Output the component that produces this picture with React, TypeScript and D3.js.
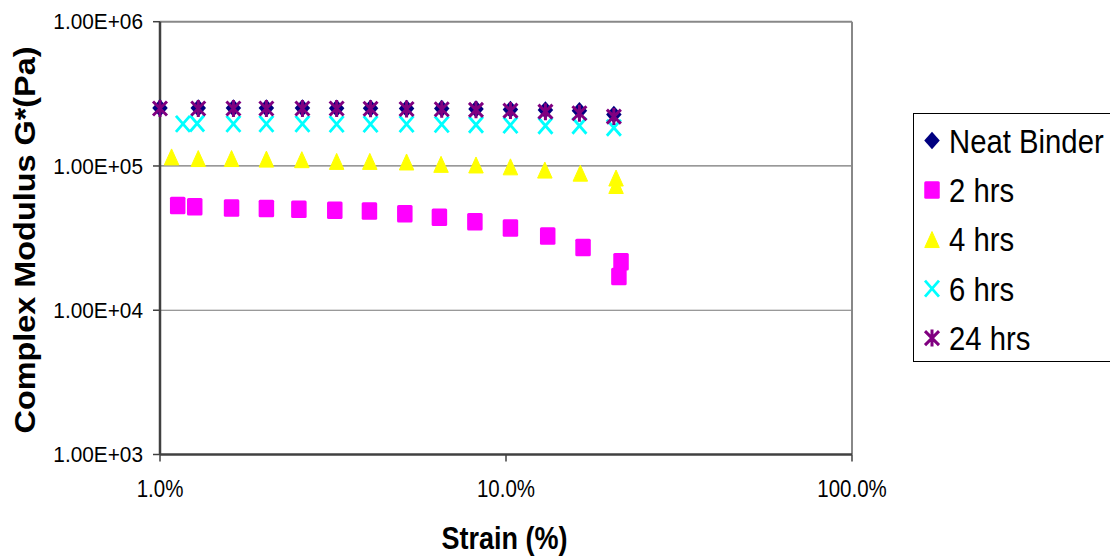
import React from "react";
import * as d3 from "d3";

// ---- data ----
const seriesNames = ["Neat Binder", "2 hrs", "4 hrs", "6 hrs", "24 hrs"];

const neatStrain = [1.0, 1.29, 1.63, 2.03, 2.58, 3.24, 4.06, 5.16, 6.52, 8.19, 10.3, 13.0, 16.3, 20.5];
const neatG = [2.52e5, 2.52e5, 2.52e5, 2.52e5, 2.52e5, 2.51e5, 2.51e5, 2.5e5, 2.5e5, 2.48e5, 2.46e5, 2.44e5, 2.41e5, 2.27e5];

const hrs2Strain = [1.125, 1.26, 1.61, 2.03, 2.52, 3.2, 4.03, 5.1, 6.42, 8.13, 10.3, 13.2, 16.7, 21.5, 21.2];
const hrs2G = [5.33e4, 5.21e4, 5.11e4, 5.08e4, 5.02e4, 4.94e4, 4.87e4, 4.67e4, 4.41e4, 4.1e4, 3.71e4, 3.27e4, 2.72e4, 2.17e4, 1.71e4];

const hrs4Strain = [1.08, 1.29, 1.61, 2.03, 2.57, 3.24, 4.04, 5.16, 6.49, 8.19, 10.3, 12.95, 16.4, 20.8, 20.8];
const hrs4G = [1.16e5, 1.13e5, 1.13e5, 1.12e5, 1.11e5, 1.08e5, 1.08e5, 1.07e5, 1.03e5, 1.02e5, 9.9e4, 9.4e4, 8.95e4, 8.28e4, 7.35e4];

const hrs6Strain = [1.165, 1.28, 1.63, 2.03, 2.58, 3.24, 4.06, 5.16, 6.52, 8.19, 10.3, 13.0, 16.3, 20.5];
const hrs6G = [1.96e5, 1.97e5, 1.96e5, 1.96e5, 1.96e5, 1.95e5, 1.95e5, 1.95e5, 1.94e5, 1.93e5, 1.92e5, 1.9e5, 1.9e5, 1.84e5];

const hrs24Strain = [1.0, 1.29, 1.63, 2.03, 2.58, 3.24, 4.06, 5.16, 6.52, 8.19, 10.3, 13.0, 16.3, 20.5];
const hrs24G = [2.5e5, 2.5e5, 2.5e5, 2.5e5, 2.5e5, 2.5e5, 2.49e5, 2.48e5, 2.47e5, 2.45e5, 2.42e5, 2.38e5, 2.32e5, 2.2e5];

const yTicks = [1e3, 1e4, 1e5, 1e6];
const yTickLabels = ["1.00E+03", "1.00E+04", "1.00E+05", "1.00E+06"];
const xTicks = [1, 10, 100];
const xTickLabels = ["1.0%", "10.0%", "100.0%"];

const colors = ["#000080", "#FF00FF", "#FFFF00", "#00FFFF", "#800080"];
const shapes = ["diamond", "square", "triangle", "x", "star"];

const FONT = "Arial, 'Liberation Sans', Helvetica, sans-serif";

function Marker({ shape, color, x, y }: { shape: string; color: string; x: number; y: number }) {
  const w = 15.5, h = 17.5;
  if (shape === "diamond") {
    return <path d={`M${x},${y - h / 2}L${x + w / 2},${y}L${x},${y + h / 2}L${x - w / 2},${y}Z`} fill={color} />;
  }
  if (shape === "square") {
    return <rect x={x - w / 2} y={y - h / 2} width={w} height={h} rx={1.5} fill={color} />;
  }
  if (shape === "triangle") {
    return (
      <path
        d={`M${x},${y - h / 2 + 1}L${x + w / 2 - 0.5},${y + h / 2 - 0.5}L${x - w / 2 + 0.5},${y + h / 2 - 0.5}Z`}
        fill={color}
        stroke={color}
        strokeWidth={1}
        strokeLinejoin="round"
      />
    );
  }
  if (shape === "x") {
    const a = 7, b = 8;
    return (
      <path
        d={`M${x - a},${y - b}L${x + a},${y + b}M${x + a},${y - b}L${x - a},${y + b}`}
        stroke={color}
        strokeWidth={2.8}
        fill="none"
      />
    );
  }
  // star
  const a = 7, b = 8.5;
  return (
    <path
      d={`M${x - a},${y - b + 1.5}L${x + a},${y + b - 1.5}M${x + a},${y - b + 1.5}L${x - a},${y + b - 1.5}M${x},${y - b}L${x},${y + b}`}
      stroke={color}
      strokeWidth={3}
      fill="none"
    />
  );
}

export default function App() {
  const W = 1110, H = 558;
  const left = 160, right = 852, top = 21.7, bottom = 454.5;
  const x = d3.scaleLog().domain([1, 100]).range([left, right]);
  const y = d3.scaleLog().domain([1e3, 1e6]).range([bottom, top]);

  const series = [
    { s: neatStrain, g: neatG },
    { s: hrs2Strain, g: hrs2G },
    { s: hrs4Strain, g: hrs4G },
    { s: hrs6Strain, g: hrs6G },
    { s: hrs24Strain, g: hrs24G },
  ];

  const legendX = 913.5, legendY = 113.5, legendH = 248;
  const legendBase0 = 152.5, legendStep = 49.4;

  return (
    <div style={{ position: "fixed", left: 0, top: 0, width: W, height: H, background: "#fff" }}>
      <svg width={W} height={H} style={{ display: "block" }}>
        <rect x={0} y={0} width={W} height={H} fill="#fff" />
        {/* gridlines */}
        {yTicks.filter((t) => t > 1e3 && t < 1e6).map((t) => (
          <line key={t} x1={left} x2={right} y1={y(t)} y2={y(t)} stroke="#777" strokeWidth={1.2} />
        ))}
        {/* plot border top/right */}
        <line x1={left} x2={right} y1={top} y2={top} stroke="#888" strokeWidth={2} />
        <line x1={right} x2={right} y1={top} y2={bottom} stroke="#888" strokeWidth={2} />
        {/* axes */}
        <line x1={left} x2={left} y1={top} y2={bottom} stroke="#404040" strokeWidth={2.5} />
        <line x1={left} x2={right} y1={bottom} y2={bottom} stroke="#404040" strokeWidth={2.5} />
        {yTicks.map((t) => (
          <line key={"yt" + t} x1={left - 7} x2={left} y1={y(t)} y2={y(t)} stroke="#404040" strokeWidth={1.5} />
        ))}
        {xTicks.map((t) => (
          <line key={"xt" + t} x1={x(t)} x2={x(t)} y1={bottom} y2={bottom + 7} stroke="#404040" strokeWidth={1.5} />
        ))}
        {/* y tick labels */}
        {yTicks.map((t, i) => (
          <text
            key={"yl" + t}
            transform={`translate(${143},${y(t)}) scale(1,1.1)`}
            y={7}
            textAnchor="end"
            fontFamily={FONT}
            fontSize={20.8}
            fill="#000"
          >
            {yTickLabels[i]}
          </text>
        ))}
        {/* x tick labels */}
        {xTicks.map((t, i) => (
          <text
            key={"xl" + t}
            transform={`translate(${x(t)},${497}) scale(1,1.18)`}
            textAnchor="middle"
            fontFamily={FONT}
            fontSize={20.5}
            fill="#000"
          >
            {xTickLabels[i]}
          </text>
        ))}
        {/* axis titles */}
        <text
          transform={`translate(504.5,549) scale(1,1.14)`}
          textAnchor="middle"
          fontFamily={FONT}
          fontWeight="bold"
          fontSize={27}
          fill="#000"
        >
          Strain (%)
        </text>
        <text
          transform={`translate(35,240) rotate(-90) scale(1.08,1)`}
          textAnchor="middle"
          fontFamily={FONT}
          fontWeight="bold"
          fontSize={30}
          fill="#000"
        >
          Complex Modulus G*(Pa)
        </text>
        {/* data */}
        {series.map((ser, si) => (
          <g key={"s" + si}>
            {ser.s.map((sv, i) => (
              <Marker key={i} shape={shapes[si]} color={colors[si]} x={x(sv)} y={y(ser.g[i])} />
            ))}
          </g>
        ))}
        {/* legend */}
        <rect x={legendX} y={legendY} width={250} height={legendH} fill="#fff" stroke="#000" strokeWidth={1} />
        {seriesNames.map((n, i) => {
          const base = legendBase0 + i * legendStep;
          return (
            <g key={"lg" + i}>
              <Marker shape={shapes[i]} color={colors[i]} x={932} y={base - 12} />
              <text
                transform={`translate(949,${base}) scale(1,1.15)`}
                fontFamily={FONT}
                fontSize={29.3}
                fill="#000"
              >
                {n}
              </text>
            </g>
          );
        })}
      </svg>
    </div>
  );
}
